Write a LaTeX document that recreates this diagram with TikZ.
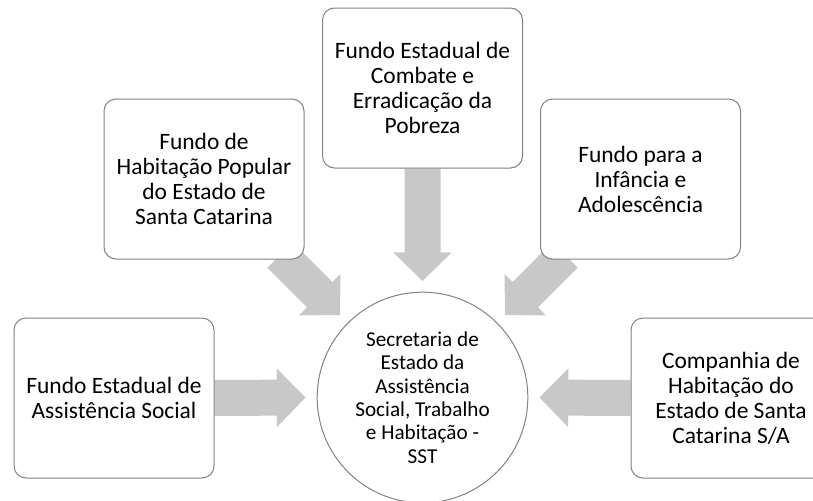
\documentclass[tikz,border=0pt]{standalone}
\usepackage{fontspec}
\setmainfont{Carlito}
\usetikzlibrary{calc,backgrounds}
\definecolor{boxline}{RGB}{130,130,130}
\definecolor{arrowgray}{RGB}{200,200,200}
\newcommand{\blkarrow}[2]{%
  \coordinate (hb) at ($(#2)!21.5pt!(#1)$);
  \fill[arrowgray] ($(#1)!13.5pt!90:(#2)$) -- ($(hb)!13.5pt!90:(#2)$) -- ($(hb)!22pt!90:(#2)$) -- (#2)
    -- ($(hb)!22pt!-90:(#2)$) -- ($(hb)!13.5pt!-90:(#2)$) -- ($(#1)!13.5pt!-90:(#2)$) -- cycle;
}
\tikzset{
  fundbox/.style={draw=boxline, line width=0.75pt, fill=white, rounded corners=9pt,
    minimum width=150pt, minimum height=120pt, align=center, inner sep=0pt,
    font=\fontsize{17.6}{18.75}\selectfont},
  hubcircle/.style={draw=boxline, line width=0.75pt, fill=white, circle,
    minimum size=158pt, align=center, inner sep=0pt,
    font=\fontsize{15.9}{17.5}\selectfont}
}
\begin{document}
\begin{tikzpicture}[x=0.75pt,y=-0.75pt]
\useasboundingbox (0,0) rectangle (813,500);
\clip (0,0) rectangle (813,500);
\node[hubcircle] (C) at (422.5,397.5) {Secretaria de\\Estado da\\Assistência\\Social, Trabalho\\e Habitação -\\SST};
\node[fundbox] (T) at (422.5,88) {Fundo Estadual de\\Combate e\\Erradicação da\\Pobreza};
\node[fundbox] (TL) at (204,179) {Fundo de\\Habitação Popular\\do Estado de\\Santa Catarina};
\node[fundbox] (TR) at (640.5,179) {Fundo para a\\Infância e\\Adolescência};
\node[fundbox] (BL) at (114,398) {Fundo Estadual de\\Assistência Social};
\node[fundbox] (BR) at (731,398) {Companhia de\\Habitação do\\Estado de Santa\\Catarina S/A};
\coordinate (sDL) at (280,255);
\coordinate (sDR) at (565,255);
\coordinate (tT) at (422.5,281);
\coordinate (tL) at (305.5,397.5);
\coordinate (tR) at (539.5,397.5);
\coordinate (tDL) at (340,315);
\coordinate (tDR) at (505,315);
\begin{pgfonlayer}{background}
\blkarrow{T.south}{tT}
\blkarrow{BL.east}{tL}
\blkarrow{BR.west}{tR}
\blkarrow{sDL}{tDL}
\blkarrow{sDR}{tDR}
\end{pgfonlayer}
\end{tikzpicture}
\end{document}
